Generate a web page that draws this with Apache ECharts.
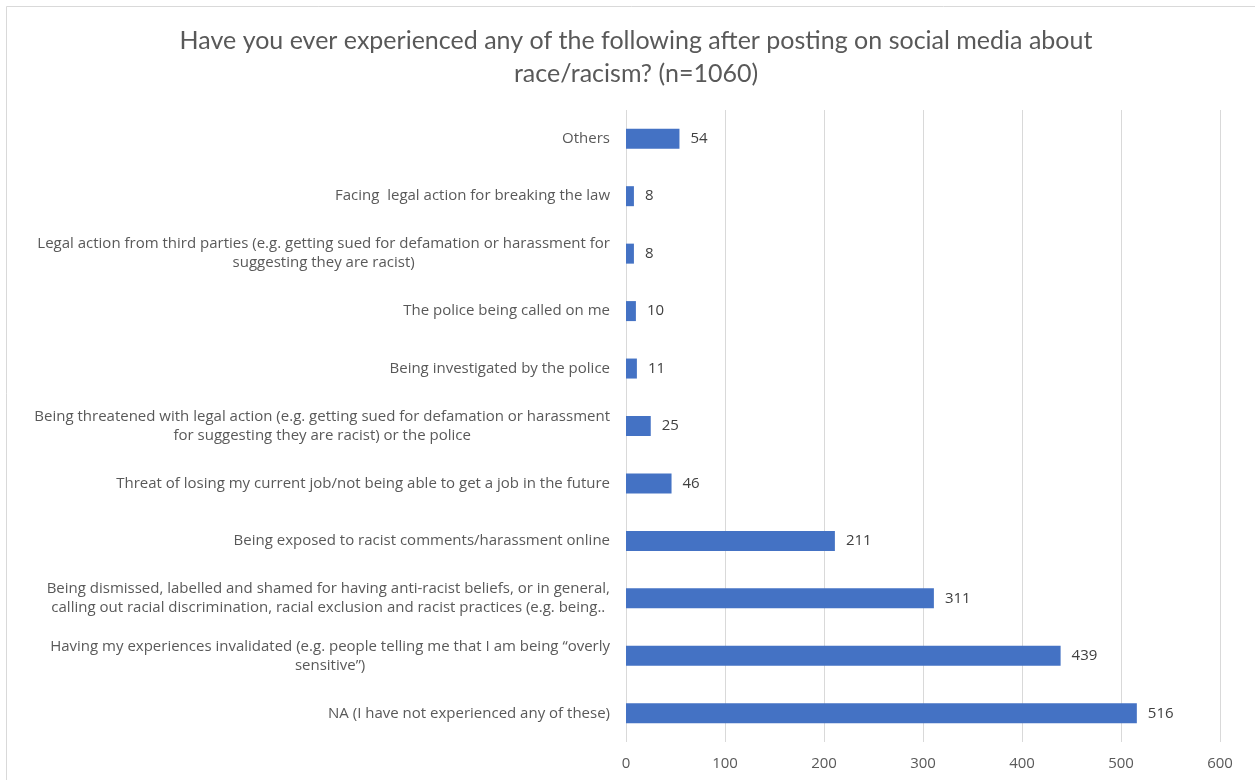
<!DOCTYPE html>
<html>
<head>
<meta charset="utf-8">
<script src="https://cdn.jsdelivr.net/npm/echarts@6/dist/echarts.min.js"></script>
<style>
  html, body { margin: 0; padding: 0; background: #fff; }
  #chart { width: 1255px; height: 780px; }
</style>
</head>
<body>
<div id="chart"></div>
<script>
// Survey responses, listed bottom-to-top as they appear on the category axis
const categories = [
  "NA (I have not experienced any of these)",
  "Having my experiences invalidated (e.g. people telling me that I am being \u201coverly\nsensitive\u201d)",
  "Being dismissed, labelled and shamed for having anti-racist beliefs, or in general,\ncalling out racial discrimination, racial exclusion and racist practices (e.g. being..",
  "Being exposed to racist comments/harassment online",
  "Threat of losing my current job/not being able to get a job in the future",
  "Being threatened with legal action (e.g. getting sued for defamation or harassment\nfor suggesting they are racist) or the police",
  "Being investigated by the police",
  "The police being called on me",
  "Legal action from third parties (e.g. getting sued for defamation or harassment for\nsuggesting they are racist)",
  "Facing  legal action for breaking the law",
  "Others"
];
const counts = [516, 439, 311, 211, 46, 25, 11, 10, 8, 8, 54];
const axisMin = 0;
const axisMax = 600;
const axisStep = 100;

const titleFont = "Lato, sans-serif";
const labelFont = "'Open Sans', sans-serif";
const labelSize = 15;
const lineGap = 19;

// Category names are drawn one line at a time as labels of transparent twin
// bar series. Every line is centred on the middle of its label block, and
// the block is shifted left by half its width so its right edge meets the axis.
const measureCtx = document.createElement('canvas').getContext('2d');
measureCtx.font = labelSize + 'px ' + labelFont;
const splitNames = categories.map(function (c) { return c.split('\n'); });
const blockWidths = splitNames.map(function (lines) {
  return Math.max.apply(null, lines.map(function (l) { return measureCtx.measureText(l).width; }));
});
const firstLineItems = counts.map(function (v, i) {
  const dy = splitNames[i].length > 1 ? -lineGap / 2 : 0;
  return { value: v, label: { offset: [-blockWidths[i] / 2, dy] } };
});
const secondLineItems = counts.map(function (v, i) {
  const has = splitNames[i].length > 1;
  return { value: v, label: { show: has, offset: [-blockWidths[i] / 2, lineGap / 2] } };
});

function nameLabel(lineIndex) {
  return {
    show: true,
    position: 'left',
    distance: 16,
    align: 'center',
    verticalAlign: 'middle',
    fontFamily: labelFont,
    fontSize: labelSize,
    color: '#595959',
    formatter: function (p) { return splitNames[p.dataIndex][lineIndex] || ''; }
  };
}

const chart = echarts.init(document.getElementById('chart'), null, { renderer: 'canvas' });
chart.setOption({
  animation: false,
  backgroundColor: '#ffffff',
  graphic: [{
    type: 'rect',
    shape: { x: 6.5, y: 6.5, width: 1260, height: 790 },
    style: { fill: 'none', stroke: '#d9d9d9', lineWidth: 1 },
    silent: true
  }],
  title: {
    text: 'Have you ever experienced any of the following after posting on social media about\nrace/racism? (n=1060)',
    top: 19,
    textAlign: 'center',
    left: 631,
    textStyle: {
      fontFamily: titleFont,
      fontSize: 25,
      fontWeight: 'normal',
      color: '#595959',
      lineHeight: 33
    }
  },
  grid: { left: 626, right: 35, top: 110, bottom: 38, containLabel: false, outerBoundsMode: 'none' },
  xAxis: {
    type: 'value',
    min: axisMin,
    max: axisMax,
    interval: axisStep,
    axisLine: { show: false },
    axisTick: { show: false },
    splitLine: { show: true, lineStyle: { color: '#d9d9d9', width: 1 } },
    axisLabel: {
      margin: 14,
      fontFamily: labelFont,
      fontSize: labelSize,
      color: '#595959'
    }
  },
  yAxis: {
    type: 'category',
    data: categories,
    axisLine: { show: false },
    axisTick: { show: false },
    axisLabel: { show: false }
  },
  series: [{
    type: 'bar',
    data: counts,
    barWidth: 20,
    barGap: '-100%',
    itemStyle: { color: '#4472c4' },
    label: {
      show: true,
      position: 'right',
      distance: 11,
      fontFamily: labelFont,
      fontSize: labelSize,
      color: '#404040'
    }
  }, {
    type: 'bar',
    data: firstLineItems,
    barWidth: 20,
    barGap: '-100%',
    silent: true,
    itemStyle: { color: 'rgba(0,0,0,0)' },
    label: nameLabel(0)
  }, {
    type: 'bar',
    data: secondLineItems,
    barWidth: 20,
    barGap: '-100%',
    silent: true,
    itemStyle: { color: 'rgba(0,0,0,0)' },
    label: nameLabel(1)
  }]
});
</script>
</body>
</html>
